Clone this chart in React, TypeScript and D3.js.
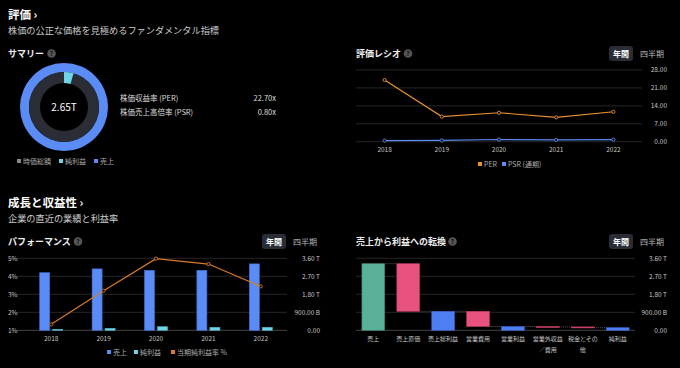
import * as d3 from "d3";

const width = 680;
const height = 368;
const font = "'Noto Sans CJK JP', 'Noto Sans', sans-serif";

// summary
const marketCap = 2.65; // T
const perValue = 22.7;
const psrValue = 0.8;
const summaryLegend = ["時価総額", "純利益", "売上"];

// ratio chart
const years = ["2018", "2019", "2020", "2021", "2022"];
const per = [24.1, 9.8, 11.3, 9.5, 11.7];
const psr = [0.45, 0.5, 0.85, 0.7, 0.8];
const ratioTicks = [0, 7, 14, 21, 28];

// performance chart (T / %)
const sales = [2.88, 3.07, 3.0, 3.0, 3.32];
const netIncome = [0.05, 0.1, 0.18, 0.15, 0.15];
const margin = [1.33, 3.2, 4.98, 4.68, 3.44];
const pctTicks = [1, 2, 3, 4, 5];
const moneyTicks = [0, 0.9, 1.8, 2.7, 3.6];
const moneyLabels = ["0.00", "900.00 B", "1.80 T", "2.70 T", "3.60 T"];

// waterfall
const wfCategories = ["売上", "売上原価", "売上総利益", "営業費用", "営業利益", "営業外収益／費用", "税金とその他", "純利益"];
const wfLabelLines = [["売上"], ["売上原価"], ["売上総利益"], ["営業費用"], ["営業利益"], ["営業外収益", "／費用"], ["税金とその", "他"], ["純利益"]];
const wfDelta = [3.33, -2.38, 0, -0.76, 0, -0.02, -0.04, 0];
const wfIsTotal = [true, false, true, false, true, false, false, true];

const bg = "#000";
const grid = "#262626";
const axisText = "#c4c4c4";
const blue = "#5b8cf5";
const cyan = "#6fd3e6";
const orange = "#e8912e";
const orange2 = "#d97a2a";
const teal = "#5bb09a";
const pink = "#e8527e";
const wfBlue = "#4d7ff2";
const darkRing = "#2a2d36";

const Help = ({ x, y }: { x: number; y: number }) => (
  <g>
    <circle cx={x} cy={y} r={4.3} fill="#555" />
    <text x={x} y={y + 2.5} fontSize={6.5} fill="#111" textAnchor="middle" fontWeight="bold">?</text>
  </g>
);

const Toggle = ({ x, y }: { x: number; y: number }) => (
  <g>
    <rect x={x} y={y} width={24} height={15} rx={3} fill="#2a2d36" />
    <text x={x + 12} y={y + 10.5} fontSize={8} fill="#fff" fontWeight="bold" textAnchor="middle">年間</text>
    <text x={x + 43} y={y + 10.5} fontSize={8} fill="#bbb" textAnchor="middle">四半期</text>
  </g>
);

const Summary = () => {
  const cx = 64;
  const cy = 107;
  const arc = d3.arc<{ s: number; e: number; r0: number; r1: number }>()
    .startAngle((d) => d.s)
    .endAngle((d) => d.e)
    .innerRadius((d) => d.r0)
    .outerRadius((d) => d.r1);
  const netShare = 1 / perValue; // net income / market cap
  const angle = d3.scaleLinear().domain([0, 1]).range([0, 2 * Math.PI]);
  const legendX = [17, 59, 94];
  const legendC = ["#888", cyan, blue];
  return (
    <g>
      <g transform={`translate(${cx},${cy})`}>
        <path d={arc({ s: 0, e: 2 * Math.PI, r0: 35, r1: 44 }) as string} fill={blue} />
        <path d={arc({ s: 0, e: 2 * Math.PI, r0: 24, r1: 35 }) as string} fill={darkRing} />
        <path d={arc({ s: angle(0), e: angle(netShare), r0: 24, r1: 35 }) as string} fill={cyan} />
        <text y={3.5} fontSize={10} fill="#fff" textAnchor="middle">{`${marketCap.toFixed(2)}T`}</text>
      </g>
      {summaryLegend.map((l, i) => (
        <g key={l}>
          <rect x={legendX[i]} y={159} width={4} height={4} fill={legendC[i]} />
          <text x={legendX[i] + 6} y={163.5} fontSize={7} fill="#aaa">{l}</text>
        </g>
      ))}
      <text x={120} y={101} fontSize={7.5} fill="#ddd">株価収益率 (PER)</text>
      <text x={276} y={101} fontSize={7.5} fill="#ddd" textAnchor="end">{`${perValue.toFixed(2)}x`}</text>
      <text x={120} y={115} fontSize={7.5} fill="#ddd">株価売上高倍率 (PSR)</text>
      <text x={276} y={115} fontSize={7.5} fill="#ddd" textAnchor="end">{`${psrValue.toFixed(2)}x`}</text>
    </g>
  );
};

const RatioChart = () => {
  const x = d3.scalePoint<string>().domain(years).range([356, 642]).padding(0.5);
  const y = d3.scaleLinear().domain([0, 28]).range([141.7, 70]);
  const line = d3.line<number>().x((_, i) => x(years[i]) as number).y((d) => y(d));
  return (
    <g>
      {ratioTicks.map((t) => (
        <g key={t}>
          <line x1={356} x2={642} y1={y(t)} y2={y(t)} stroke={grid} />
          <text x={667} y={y(t) + 2.3} fontSize={6.5} fill={axisText} textAnchor="end">{t.toFixed(2)}</text>
        </g>
      ))}
      {years.map((yr) => (
        <text key={yr} x={x(yr)} y={152} fontSize={6.5} fill={axisText} textAnchor="middle">{yr}</text>
      ))}
      <path d={line(per) as string} fill="none" stroke={orange} strokeWidth={1.2} />
      <path d={line(psr) as string} fill="none" stroke={blue} strokeWidth={1.2} />
      {per.map((v, i) => (
        <circle key={"p" + i} cx={x(years[i])} cy={y(v)} r={1.6} fill={bg} stroke={orange} strokeWidth={0.9} />
      ))}
      {psr.map((v, i) => (
        <circle key={"s" + i} cx={x(years[i])} cy={y(v)} r={1.6} fill={bg} stroke={blue} strokeWidth={0.9} />
      ))}
      <rect x={478} y={162} width={4} height={4} fill={orange} />
      <text x={484} y={166.5} fontSize={7} fill="#aaa">PER</text>
      <rect x={502} y={162} width={4} height={4} fill={blue} />
      <text x={508} y={166.5} fontSize={7} fill="#aaa">PSR (通期)</text>
    </g>
  );
};

const PerformanceChart = () => {
  const x = d3.scaleBand<string>().domain(years).range([25, 287]);
  const yM = d3.scaleLinear().domain([0, 3.6]).range([330.3, 258.3]);
  const yP = d3.scaleLinear().domain([1, 5]).range([330.3, 258.3]);
  const cxOf = (yr: string) => (x(yr) as number) + x.bandwidth() / 2;
  const line = d3.line<number>().x((_, i) => cxOf(years[i])).y((d) => yP(d));
  const bw = 10;
  return (
    <g>
      {moneyTicks.map((t, i) => (
        <g key={t}>
          <line x1={17} x2={287} y1={yM(t)} y2={yM(t)} stroke={i === 0 ? "#444" : grid} />
          <text x={320} y={yM(t) + 2.3} fontSize={6.5} fill={axisText} textAnchor="end">{moneyLabels[i]}</text>
        </g>
      ))}
      {pctTicks.map((t) => (
        <text key={t} x={8} y={yP(t) + 2.3} fontSize={6.5} fill={axisText}>{`${t}%`}</text>
      ))}
      {years.map((yr, i) => (
        <g key={yr}>
          <rect x={cxOf(yr) - bw - 1.5} y={yM(sales[i])} width={bw} height={yM(0) - yM(sales[i])} fill={blue} stroke="#3f6fd8" strokeWidth={0.6} />
          <rect x={cxOf(yr) + 1.5} y={yM(netIncome[i])} width={bw} height={yM(0) - yM(netIncome[i])} fill={cyan} stroke="#4fb3c6" strokeWidth={0.6} />
          <text x={cxOf(yr)} y={341} fontSize={6.5} fill={axisText} textAnchor="middle">{yr}</text>
        </g>
      ))}
      <path d={line(margin) as string} fill="none" stroke={orange2} strokeWidth={1.2} />
      {margin.map((v, i) => (
        <circle key={i} cx={cxOf(years[i])} cy={yP(v)} r={1.6} fill={bg} stroke={orange2} strokeWidth={0.9} />
      ))}
      <rect x={107} y={350} width={4} height={4} fill={blue} />
      <text x={113} y={354.5} fontSize={7} fill="#aaa">売上</text>
      <rect x={134} y={350} width={4} height={4} fill={cyan} />
      <text x={140} y={354.5} fontSize={7} fill="#aaa">純利益</text>
      <rect x={171} y={350} width={4} height={4} fill={orange2} />
      <text x={177} y={354.5} fontSize={7} fill="#aaa">当期純利益率 %</text>
    </g>
  );
};

const Waterfall = () => {
  const x = d3.scaleBand<string>().domain(wfCategories).range([356, 635]).paddingInner(0.35).paddingOuter(0.17);
  const y = d3.scaleLinear().domain([0, 3.6]).range([330.3, 258.3]);
  let running = 0;
  const bars = wfCategories.map((c, i) => {
    if (wfIsTotal[i]) {
      if (i === 0) running = wfDelta[0];
      return { c, from: 0, to: running, kind: i === 0 ? "first" : "total" };
    }
    const from = running;
    running += wfDelta[i];
    return { c, from, to: running, kind: "delta" };
  });
  const fillOf = (k: string) => (k === "first" ? teal : k === "total" ? wfBlue : pink);
  const strokeOf = (k: string) => (k === "first" ? "#3e8a76" : k === "total" ? "#3a66c8" : "#c03c62");
  return (
    <g>
      {moneyTicks.map((t, i) => (
        <g key={t}>
          <line x1={356} x2={635} y1={y(t)} y2={y(t)} stroke={i === 0 ? "#444" : grid} />
          <text x={667} y={y(t) + 2.3} fontSize={6.5} fill={axisText} textAnchor="end">{moneyLabels[i]}</text>
        </g>
      ))}
      {bars.slice(0, -1).map((b, i) => {
        const x1 = (x(b.c) as number) + x.bandwidth();
        const x2 = x(bars[i + 1].c) as number;
        return <line key={"c" + i} x1={x1} x2={x2} y1={y(b.to)} y2={y(b.to)} stroke="#555" strokeDasharray="1,1" />;
      })}
      {bars.map((b) => {
        const top = y(Math.max(b.from, b.to));
        const bot = y(Math.min(b.from, b.to));
        return (
          <rect key={b.c} x={x(b.c)} y={top} width={x.bandwidth()} height={Math.max(bot - top, 1)} fill={fillOf(b.kind)} stroke={strokeOf(b.kind)} strokeWidth={0.6} />
        );
      })}
      {wfLabelLines.map((lines, i) => (
        <text key={i} x={(x(wfCategories[i]) as number) + x.bandwidth() / 2} y={341} fontSize={6} fill={axisText} textAnchor="middle">
          {lines.map((l, j) => (
            <tspan key={j} x={(x(wfCategories[i]) as number) + x.bandwidth() / 2} dy={j === 0 ? 0 : 10.5}>{l}</tspan>
          ))}
        </text>
      ))}
    </g>
  );
};

const App = () => {
  return (
    <div style={{ position: "fixed", left: 0, top: 0, width, height, background: bg }}>
      <svg width={width} height={height} viewBox={`0 0 ${width} ${height}`} style={{ display: "block", fontFamily: font }}>
        <rect width={width} height={height} fill={bg} />

        <text x={8} y={19} fontSize={11.5} fontWeight="bold" fill="#fff">評価 ›</text>
        <text x={8} y={34} fontSize={9.2} fill="#ccc">株価の公正な価格を見極めるファンダメンタル指標</text>
        <text x={8} y={57} fontSize={9} fontWeight="bold" fill="#eee">サマリー</text>
        <Help x={51.5} y={53.5} />
        <Summary />

        <text x={356} y={57} fontSize={9} fontWeight="bold" fill="#eee">評価レシオ</text>
        <Help x={408} y={53.5} />
        <Toggle x={609} y={46} />
        <RatioChart />

        <text x={8} y={207} fontSize={11.5} fontWeight="bold" fill="#fff">成長と収益性 ›</text>
        <text x={8} y={222} fontSize={9.2} fill="#ccc">企業の直近の業績と利益率</text>
        <text x={8} y={245} fontSize={9} fontWeight="bold" fill="#eee">パフォーマンス</text>
        <Help x={78} y={241.5} />
        <Toggle x={262} y={234} />
        <PerformanceChart />

        <text x={356} y={245} fontSize={9} fontWeight="bold" fill="#eee">売上から利益への転換</text>
        <Help x={452.5} y={241.5} />
        <Toggle x={609} y={234} />
        <Waterfall />
      </svg>
    </div>
  );
};

export default App;
